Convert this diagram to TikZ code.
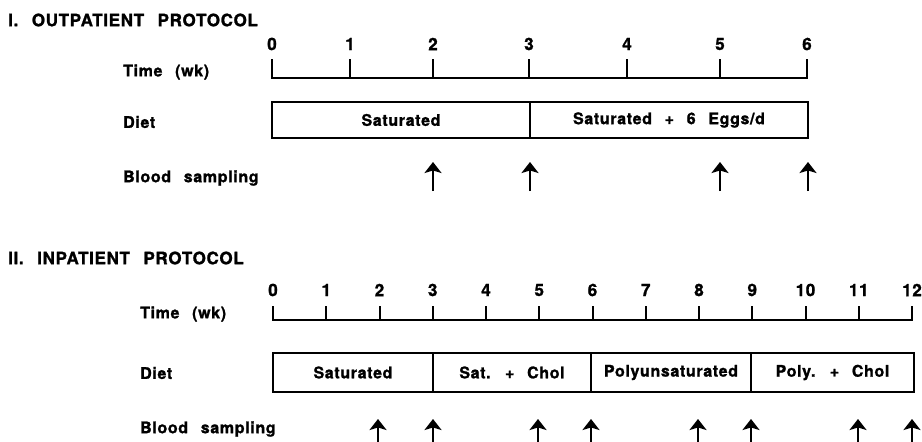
\documentclass[tikz,border=0pt]{standalone}
\usepackage{fontspec}
\setmainfont{TeX Gyre Heros}[LetterSpace=4, WordSpace=2.5, BoldFeatures={FakeBold=1.3}]
\usetikzlibrary{arrows.meta}
\begin{document}
\begin{tikzpicture}[x=1pt,y=-1pt,
  lbl/.style={font=\bfseries\fontsize{16}{19}\selectfont, inner sep=0pt, anchor=west},
  ttl/.style={font=\bfseries\fontsize{17}{20}\selectfont, inner sep=0pt, anchor=west},
  num/.style={font=\bfseries\fontsize{17}{20}\selectfont, inner sep=0pt},
  seg/.style={draw, line width=2pt, inner sep=0pt, font=\bfseries\fontsize{16}{19}\selectfont},
  axis/.style={line width=2pt, line cap=rect},
  samp/.style={line width=2.5pt, -{Stealth[width=17pt,length=11pt,inset=2.5pt]}}]
\useasboundingbox (0,0) rectangle (922,442);

% ---------- I. Outpatient ----------
\node[ttl] (title1) at (8,20) {I. OUTPATIENT PROTOCOL};
\node[lbl] (time1) at (123,72) {Time (wk)};
\node[lbl] (diet1) at (123,122) {Diet};
\node[lbl] (blood1) at (123,178) {Blood sampling};

\foreach \x [count=\i from 0] in {272,350,433,529,627,720,807}{
  \coordinate (t1a\i) at (\x,60);
  \coordinate (t1b\i) at (\x,78);
  \node[num] (n1\i) at (\x,44) {\i};
  \draw[axis] (t1a\i) -- (t1b\i);
}
\draw[axis] (t1b0) -- (t1b6);

\node[seg, minimum width=258pt, minimum height=36pt] (d1a) at (401,120) {Saturated};
\node[seg, minimum width=278pt, minimum height=36pt] (d1b) at (669,120) {Saturated + 6 Eggs/d};

\foreach \x [count=\i] in {433,530,720,808}{
  \coordinate (s1a\i) at (\x,191);
  \coordinate (s1b\i) at (\x,162);
  \draw[samp] (s1a\i) -- (s1b\i);
}

% ---------- II. Inpatient ----------
\node[ttl] (title2) at (8,258) {II. INPATIENT PROTOCOL};
\node[lbl] (time2) at (140,314) {Time (wk)};
\node[lbl] (diet2) at (140,373) {Diet};
\node[lbl] (blood2) at (140,429) {Blood sampling};

\foreach \i in {0,...,12}{
  \pgfmathsetmacro{\xx}{273+53.25*\i}
  \coordinate (t2a\i) at (\xx,307);
  \coordinate (t2b\i) at (\xx,320);
  \node[num] (n2\i) at (\xx,290) {\i};
  \draw[axis] (t2a\i) -- (t2b\i);
}
\draw[axis] (t2b0) -- (t2b12);

\node[seg, minimum width=160pt, minimum height=39pt] (d2a) at (353,372.5) {Saturated};
\node[seg, minimum width=158pt, minimum height=39pt] (d2b) at (512,372.5) {Sat. + Chol};
\node[seg, minimum width=160pt, minimum height=39pt] (d2c) at (671,372.5) {Polyunsaturated};
\node[seg, minimum width=163pt, minimum height=39pt] (d2d) at (832.5,372.5) {Poly. + Chol};

\foreach \x [count=\i] in {378,433,538,591,698,751,858,912}{
  \coordinate (s2a\i) at (\x,446);
  \coordinate (s2b\i) at (\x,419);
  \draw[samp] (s2a\i) -- (s2b\i);
}
\end{tikzpicture}
\end{document}
